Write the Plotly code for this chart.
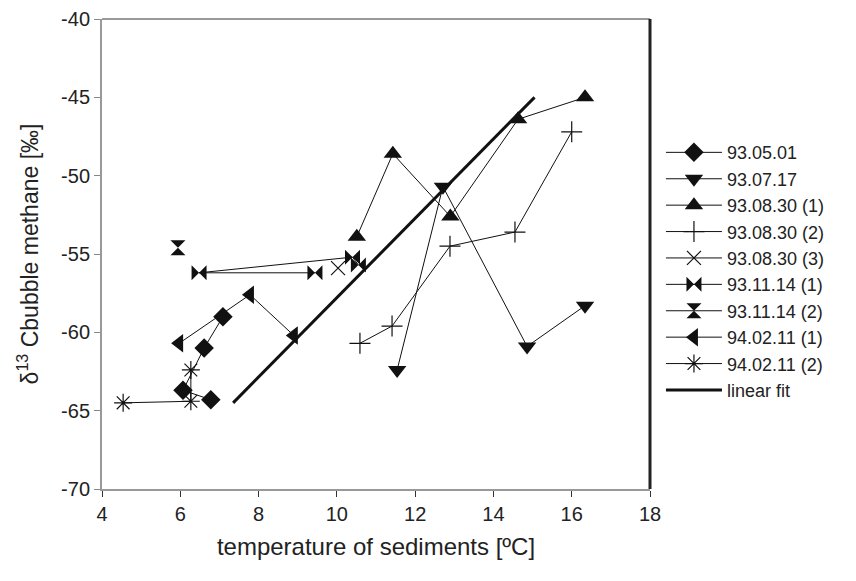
import plotly.graph_objects as go

# ---- data ----
s1_name = "93.05.01"
s1_x = [7.09, 6.61, 6.07, 6.78]
s1_y = [-59.0, -61.0, -63.7, -64.3]

s2_name = "93.07.17"
s2_x = [11.54, 12.71, 14.86, 16.34]
s2_y = [-62.4, -50.7, -60.9, -58.3]

s3_name = "93.08.30 (1)"
s3_x = [10.51, 11.43, 12.90, 14.63, 16.34]
s3_y = [-53.9, -48.6, -52.6, -46.4, -45.0]

s4_name = "93.08.30 (2)"
s4_x = [10.59, 11.41, 12.89, 14.55, 16.00]
s4_y = [-60.7, -59.6, -54.5, -53.6, -47.2]

s5_name = "93.08.30 (3)"
s5_x = [10.03]
s5_y = [-55.9]

s6_name = "93.11.14 (1)"
s6_x = [9.44, 6.48, 10.40, 10.55]
s6_y = [-56.2, -56.2, -55.2, -55.7]

s7_name = "93.11.14 (2)"
s7_x = [5.94]
s7_y = [-54.6]

s8_name = "94.02.11 (1)"
s8_x = [5.97, 7.78, 8.90]
s8_y = [-60.7, -57.6, -60.2]

s9_name = "94.02.11 (2)"
s9_x = [4.54, 6.27, 6.27]
s9_y = [-64.5, -64.4, -62.4]

fit_name = "linear fit"
fit_x = [7.35, 15.05]
fit_y = [-64.5, -45.0]

x_ticks = [4, 6, 8, 10, 12, 14, 16, 18]
x_ticktext = ["4", "6", "8", "10", "12", "14", "16", "18"]
y_ticks = [-70, -65, -60, -55, -50, -45, -40]
y_ticktext = ["-70", "-65", "-60", "-55", "-50", "-45", "-40"]

series = [
    (s1_name, s1_x, s1_y, "diamond", 15, 0),
    (s2_name, s2_x, s2_y, "triangle-down", 16, 0),
    (s3_name, s3_x, s3_y, "triangle-up", 16, 0),
    (s4_name, s4_x, s4_y, "cross-thin", 15, 1.2),
    (s5_name, s5_x, s5_y, "x-thin", 14, 1.2),
    (s6_name, s6_x, s6_y, "bowtie", 15, 0),
    (s7_name, s7_x, s7_y, "hourglass", 15, 0),
    (s8_name, s8_x, s8_y, "triangle-left", 16, 0),
    (s9_name, s9_x, s9_y, "asterisk", 15, 1.2),
]

fig = go.Figure()
for name, xs, ys, sym, size, lw in series:
    fig.add_trace(go.Scatter(
        x=xs, y=ys, name=name, mode="lines+markers",
        line=dict(color="#111111", width=1),
        marker=dict(symbol=sym, size=size, color="#111111",
                    line=dict(color="#111111", width=lw)),
    ))

fig.add_trace(go.Scatter(
    x=fit_x, y=fit_y, name=fit_name, mode="lines",
    line=dict(color="#111111", width=3),
))

font_family = "Liberation Sans, Arial, sans-serif"

fig.update_layout(
    width=856, height=581,
    margin=dict(l=94, r=214, t=11, b=100, autoexpand=False),
    paper_bgcolor="white", plot_bgcolor="white",
    font=dict(family=font_family, size=18, color="#222222"),
    showlegend=True,
    legend=dict(x=1.02, y=0.755, xanchor="left", yanchor="top",
                font=dict(size=18, family=font_family, color="#222222"),
                itemwidth=56, tracegroupgap=0, bgcolor="rgba(0,0,0,0)"),
    xaxis=dict(range=[4, 18], tickvals=x_ticks, ticktext=x_ticktext,
               ticks="outside", ticklen=6, automargin=False,
               tickcolor="#333333", showline=True, linecolor="#999999", linewidth=2,
               showgrid=False, zeroline=False,
               tickfont=dict(size=20),
               title=dict(text="temperature of sediments [ºC]", font=dict(size=24), standoff=14)),
    yaxis=dict(range=[-70, -40], tickvals=y_ticks, ticktext=y_ticktext,
               ticks="outside", ticklen=6, automargin=False,
               tickcolor="#888888", showline=True, linecolor="#999999", linewidth=2,
               showgrid=False, zeroline=False,
               tickfont=dict(size=20),
               title=dict(text="δ<sup>13</sup> Cbubble methane [‰]", font=dict(size=23), standoff=16)),
    shapes=[
        dict(type="line", xref="paper", yref="paper", x0=0, x1=1, y0=1, y1=1,
             line=dict(color="#999999", width=2)),
        dict(type="line", xref="paper", yref="paper", x0=1, x1=1, y0=0, y1=1,
             line=dict(color="#222222", width=3)),
    ],
)

fig.write_html("out.html")
